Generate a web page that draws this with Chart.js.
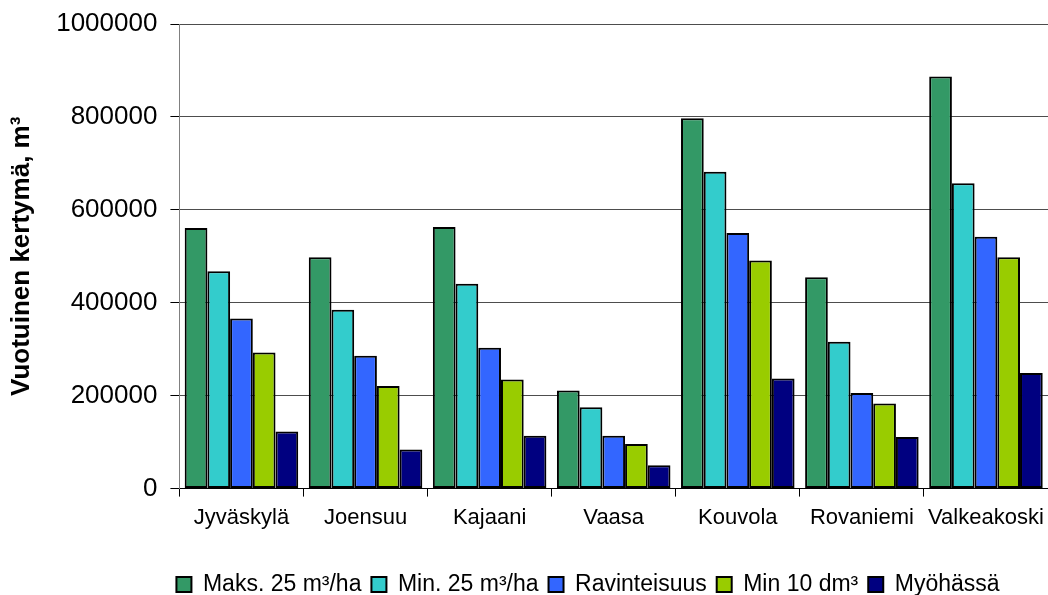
<!DOCTYPE html>
<html lang="fi">
<head>
<meta charset="utf-8">
<title>Vuotuinen kertymä</title>
<script src="https://cdn.jsdelivr.net/npm/chart.js@4"></script>
<style>
    html, body { margin: 0; padding: 0; background: #ffffff; }
    #wrap { width: 1048px; height: 595px; position: relative; }
</style>
</head>
<body>
<div id="wrap"><canvas id="kertymaChart"></canvas></div>
<script>
// Data
const categories = ['Jyväskylä', 'Joensuu', 'Kajaani', 'Vaasa', 'Kouvola', 'Rovaniemi', 'Valkeakoski'];
const seriesNames = ['Maks. 25 m³/ha', 'Min. 25 m³/ha', 'Ravinteisuus', 'Min 10 dm³', 'Myöhässä'];
const maks25 = [561000, 498000, 563000, 211000, 797000, 455000, 887000];
const min25 = [468000, 385000, 441000, 175000, 682000, 316000, 657000];
const ravinteisuus = [366000, 286000, 303000, 114000, 550000, 206000, 542000];
const min10 = [293000, 221000, 235000, 96000, 491000, 183000, 498000];
const myohassa = [123000, 84000, 114000, 50000, 237000, 111000, 249000];
const yTicks = [0, 200000, 400000, 600000, 800000, 1000000];
const yTitle = 'Vuotuinen kertymä, m³';

const seriesValues = [maks25, min25, ravinteisuus, min10, myohassa];
const seriesColors = ['#339966', '#33cccc', '#3366ff', '#99cc00', '#000080'];

const FONT = "'Liberation Sans', Arial, Helvetica, sans-serif";

// Move the legend so it sits where the original one is
const legendShift = {
    id: 'legendShift',
    afterLayout(chart) {
        const lg = chart.legend;
        if (!lg) return;
        lg.left += 64;
        lg.right += 64;
        lg.top += 24;
        lg.bottom += 24;
    }
};

const datasets = seriesNames.map((name, i) => ({
    label: name,
    data: seriesValues[i],
    backgroundColor: seriesColors[i],
    borderColor: '#000000',
    borderWidth: 2,
    borderSkipped: false,
    categoryPercentage: 0.915,
    barPercentage: 1.0
}));

const ctx = document.getElementById('kertymaChart');
const chart = new Chart(ctx, {
    type: 'bar',
    data: {
        labels: categories,
        datasets: datasets
    },
    plugins: [legendShift],
    options: {
        responsive: true,
        maintainAspectRatio: false,
        animation: false,
        layout: {
            padding: { top: 0, right: 0, bottom: 13, left: 0 }
        },
        plugins: {
            legend: {
                position: 'bottom',
                labels: {
                    font: { family: FONT, size: 23 },
                    color: '#000000',
                    boxWidth: 15,
                    boxHeight: 15,
                    padding: 10
                }
            },
            title: { display: false },
            tooltip: { enabled: false }
        },
        scales: {
            x: {
                afterFit(scale) {
                    // plot runs to the right edge, like the original
                    scale.paddingRight = 0;
                },
                grid: {
                    display: true,
                    drawOnChartArea: false,
                    drawTicks: true,
                    tickLength: 8,
                    color: '#000000'
                },
                border: { color: '#000000', width: 1 },
                ticks: {
                    font: { family: FONT, size: 22 },
                    color: '#000000',
                    padding: 8,
                    maxRotation: 0
                }
            },
            y: {
                min: 0,
                max: 1000000,
                afterBuildTicks(scale) {
                    scale.ticks = yTicks.map(v => ({ value: v }));
                },
                afterFit(scale) {
                    scale.paddingTop = 24;
                },
                grid: {
                    color: '#4d4d4d',
                    lineWidth: 1,
                    drawTicks: true,
                    tickLength: 9,
                    tickColor: '#000000'
                },
                border: { color: '#808080', width: 1 },
                ticks: {
                    font: { family: FONT, size: 26 },
                    color: '#000000',
                    padding: 13,
                    callback: (value) => String(value)
                },
                title: {
                    display: true,
                    text: yTitle,
                    font: { family: FONT, size: 26, weight: 'bold' },
                    color: '#000000',
                    padding: { top: 6, bottom: 6 }
                }
            }
        }
    }
});
</script>
</body>
</html>
